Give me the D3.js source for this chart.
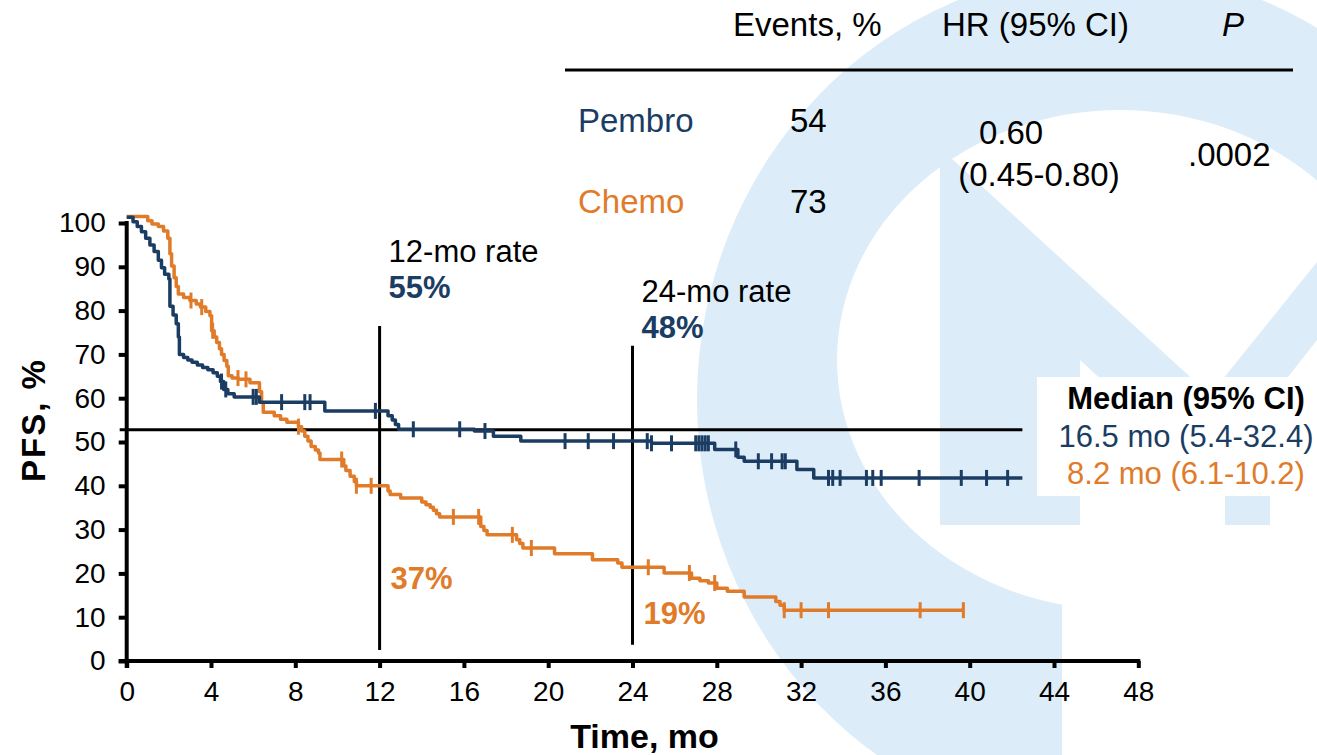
<!DOCTYPE html>
<html lang="en">
<head>
<meta charset="utf-8">
<title>PFS</title>
<script src="https://cdn.jsdelivr.net/npm/d3@7/dist/d3.min.js"></script>
<style>
  body { margin: 0; background: #fff; }
  svg { display: block; font-family: "Liberation Sans", Arial, Helvetica, sans-serif; }
</style>
</head>
<body>
<script>
// ---- values ----
var xTicks = [0, 4, 8, 12, 16, 20, 24, 28, 32, 36, 40, 44, 48];
var yTicks = [0, 10, 20, 30, 40, 50, 60, 70, 80, 90, 100];

// [month, PFS %] : value the curve drops to at that month
var pembroSteps = [[0,101.3],[0.3,100.3],[0.5,99.2],[0.7,98],[0.9,96.5],[1.1,95],[1.3,93.5],[1.5,91.5],
  [1.65,89.8],[1.8,88.3],[2.0,87.2],[2.05,81],[2.2,79],[2.35,77],[2.45,74],[2.5,70],[2.7,69.3],[2.9,68.7],
  [3.1,68.2],[3.35,67.6],[3.6,67],[3.85,66.5],[4.1,65.8],[4.3,65],[4.45,63.8],[4.6,62],[4.8,61],[5.1,60.3],
  [6.3,59.1],[9.4,57.1],[12.4,56],[12.6,55],[12.75,54],[12.9,52.9],[16.5,52.5],[17.4,51.3],[18.7,50.2],
  [24.9,49.7],[27.9,48.3],[29.0,46.5],[29.3,45.6],[31.8,43.7],[32.6,41.8]];
var pembroEnd = 42.5;
var pembroCensor = [4.5, 4.7, 6.0, 6.15, 7.35, 8.45, 8.7, 11.8, 13.6, 15.8, 17.0, 20.8, 21.9, 23.1, 24.7, 24.9,
  25.85, 27.0, 27.15, 27.3, 27.45, 27.6, 28.9, 29.97, 30.6, 31.1, 31.25, 33.3, 33.5, 33.85, 35.1, 35.4, 35.8,
  37.6, 39.6, 40.8, 41.8];

var chemoSteps = [[0,101.5],[1.0,100.5],[1.2,99.8],[1.5,99.2],[1.75,98.2],[1.95,96.5],[2.05,93],[2.13,90.2],
  [2.25,87.5],[2.35,85.5],[2.45,83.8],[2.7,83],[3.0,82.3],[3.3,81.5],[3.5,80.8],[3.75,79.8],[3.95,78.8],
  [4.03,75.4],[4.15,74],[4.27,72.7],[4.4,71.3],[4.5,70],[4.62,68.6],[4.75,67.3],[4.82,65.1],[5.0,64.6],
  [5.3,64.3],[5.85,63.5],[6.3,61.5],[6.4,59],[6.48,56.8],[7.0,56],[7.3,55.2],[7.6,54.5],[8.15,53.5],
  [8.3,52.5],[8.45,51.3],[8.6,50.2],[8.75,49],[8.95,48.2],[9.1,47.5],[9.17,46],[10.3,44.5],[10.4,43.5],
  [10.6,42.2],[10.8,41],[10.9,40],[12.4,38.8],[12.5,38],[13.0,37.2],[14.0,36.3],[14.2,35.7],[14.4,35.1],
  [14.55,34.4],[14.7,33.6],[14.85,32.9],[16.8,30.7],[16.95,29.8],[17.1,28.8],[18.5,27.7],[18.65,26.8],
  [18.8,25.8],[20.3,24.5],[22.1,23.1],[23.3,22.4],[23.5,21.4],[25.5,20.1],[26.8,18.9],[27.2,18.3],
  [27.6,17.8],[28.0,16.6],[28.5,15.9],[29.3,14.6],[30.8,13.6],[31.0,12.7],[31.2,11.6]];
var chemoEnd = 39.7;
var chemoCensor = [3.05, 3.56, 4.08, 5.28, 5.66, 8.15, 10.2, 10.9, 11.6, 15.5, 16.7, 18.3, 19.2, 24.75,
  26.7, 27.9, 31.2, 32.0, 33.3, 37.65, 39.7];

var medianLevel = 52.8;              // horizontal line
var medianLineEnd = 42.5;
var rateMonths = [12, 24];
var rateLineTop = [76.5, 72];
var rateLineBottom = [2.5, 3.7];
var rateTitles = ["12-mo rate", "24-mo rate"];
var pembroRates = ["55%", "48%"];
var chemoRates = ["37%", "19%"];

var tableHead = ["Events, %", "HR (95% CI)", "P"];
var arms = ["Pembro", "Chemo"];
var events = ["54", "73"];
var hrText = ["0.60", "(0.45-0.80)"];
var pText = ".0002";
var medianHead = "Median (95% CI)";
var medianRows = ["16.5 mo (5.4-32.4)", "8.2 mo (6.1-10.2)"];

// ---- setup ----
var W = 1317, H = 755;
var navy = "#1b3d63", orange = "#e07b2a", wm = "#dcedf9";

var svg = d3.select("body").append("svg").attr("width", W).attr("height", H);

// background logo watermark (decoration only)
var defs = svg.append("defs");
defs.append("clipPath").attr("id", "ringclip").append("path")
  .attr("d", "M0,0H1317V450H1062V755H0Z");
function ellipse(cx, cy, rx, ry) {
  return "M" + (cx - rx) + "," + cy + "a" + rx + "," + ry + " 0 1,0 " + (2 * rx) + ",0" +
    "a" + rx + "," + ry + " 0 1,0 " + (-2 * rx) + ",0Z";
}
var logo = svg.append("g").attr("fill", wm);
logo.append("path")
  .attr("d", ellipse(1110, 400, 413, 430) + ellipse(1120, 360, 283, 250))
  .attr("fill-rule", "evenodd").attr("clip-path", "url(#ringclip)");
// the "M" inside the ring: left leg + V + right leg
logo.append("path").attr("d", "M940,148L1210,395L1317,262V340L1270,400V525H1225V470L1210,480L1080,360V525H940Z");

// scales
var x = d3.scaleLinear().domain([0, 48]).range([126.7, 1138.3]);
var y = d3.scaleLinear().domain([0, 100]).range([661, 223]);

// median box background
svg.append("rect").attr("x", 1037).attr("y", 377).attr("width", 280).attr("height", 119).attr("fill", "#fff");

// axes
var xAxis = svg.append("g").attr("transform", "translate(0," + y(0) + ")")
  .call(d3.axisBottom(x).tickValues(xTicks).tickSize(7).tickSizeOuter(0).tickPadding(13));
var yAxis = svg.append("g").attr("transform", "translate(" + x(0) + ",0)")
  .call(d3.axisLeft(y).tickValues(yTicks).tickSize(8).tickSizeOuter(0).tickPadding(13));
[xAxis, yAxis].forEach(function (a) {
  a.select(".domain").attr("stroke", "#000").attr("stroke-width", 4);
  a.selectAll(".tick line").attr("stroke", "#000").attr("stroke-width", 4);
  a.selectAll(".tick text").attr("fill", "#000").attr("font-size", 28)
    .attr("font-family", "Liberation Sans, Arial, sans-serif");
});
xAxis.select(".domain").attr("d", "M" + (x(0) - 8) + ",0H" + (x(48) + 2));
yAxis.select(".domain").attr("d", "M0," + (y(100) - 2) + "V" + (y(0) + 7));

svg.append("text").attr("x", x(24) + 12).attr("y", 748).attr("text-anchor", "middle")
  .attr("font-size", 34).attr("font-weight", "bold").text("Time, mo");
svg.append("text").attr("transform", "translate(45," + 420 + ") rotate(-90)")
  .attr("text-anchor", "middle").attr("font-size", 33).attr("font-weight", "bold")
  .attr("letter-spacing", 2).text("PFS, %");

// reference lines
svg.append("line").attr("x1", x(0) - 7).attr("x2", x(medianLineEnd))
  .attr("y1", y(medianLevel)).attr("y2", y(medianLevel)).attr("stroke", "#000").attr("stroke-width", 3);
svg.selectAll(".rate").data(rateMonths).enter().append("line")
  .attr("x1", function (d) { return x(d); }).attr("x2", function (d) { return x(d); })
  .attr("y1", function (d, i) { return y(rateLineTop[i]); })
  .attr("y2", function (d, i) { return y(rateLineBottom[i]); })
  .attr("stroke", "#000").attr("stroke-width", 3);

// KM curves
function stepAt(steps, t) {
  var i = d3.bisectRight(steps.map(function (d) { return d[0]; }), t) - 1;
  return steps[Math.max(i, 0)][1];
}
var line = d3.line().x(function (d) { return x(d[0]); }).y(function (d) { return y(d[1]); })
  .curve(d3.curveStepAfter);
function drawArm(steps, end, censor, col) {
  var pts = steps.concat([[end, steps[steps.length - 1][1]]]);
  svg.append("path").datum(pts).attr("d", line).attr("fill", "none")
    .attr("stroke", col).attr("stroke-width", 3.5).attr("stroke-linejoin", "round");
  svg.append("g").selectAll("line").data(censor).enter().append("line")
    .attr("x1", function (d) { return x(d); }).attr("x2", function (d) { return x(d); })
    .attr("y1", function (d) { return y(stepAt(steps, d)) - 8; })
    .attr("y2", function (d) { return y(stepAt(steps, d)) + 8; })
    .attr("stroke", col).attr("stroke-width", 3);
}
drawArm(chemoSteps, chemoEnd, chemoCensor, orange);
drawArm(pembroSteps, pembroEnd, pembroCensor, navy);

// rate annotations
var rateTitleY = [262, 302], pembroRateY = [298, 338], chemoRateY = [589, 624];
rateMonths.forEach(function (m, i) {
  var tx = x(m) + 9;
  svg.append("text").attr("x", tx).attr("y", rateTitleY[i]).attr("font-size", 31).text(rateTitles[i]);
  svg.append("text").attr("x", tx).attr("y", pembroRateY[i]).attr("font-size", 31)
    .attr("font-weight", "bold").attr("fill", navy).text(pembroRates[i]);
  svg.append("text").attr("x", tx + 2).attr("y", chemoRateY[i]).attr("font-size", 31)
    .attr("font-weight", "bold").attr("fill", orange).text(chemoRates[i]);
});

// results table
var headX = [733, 942, 1222];
tableHead.forEach(function (t, i) {
  svg.append("text").attr("x", headX[i]).attr("y", 36).attr("font-size", 33)
    .attr("font-style", i == 2 ? "italic" : "normal").text(t);
});
svg.append("line").attr("x1", 565).attr("x2", 1293).attr("y1", 70).attr("y2", 70)
  .attr("stroke", "#000").attr("stroke-width", 3);
var rowY = [132, 213];
arms.forEach(function (a, i) {
  svg.append("text").attr("x", 578).attr("y", rowY[i]).attr("font-size", 33)
    .attr("fill", i == 0 ? navy : orange).text(a);
  svg.append("text").attr("x", 790).attr("y", rowY[i]).attr("font-size", 33).text(events[i]);
});
var hrY = [144, 186];
hrText.forEach(function (t, i) {
  svg.append("text").attr("x", 1011 + (i ? 28 : 0)).attr("y", hrY[i]).attr("text-anchor", "middle")
    .attr("font-size", 33).text(t);
});
svg.append("text").attr("x", 1188).attr("y", 166).attr("font-size", 33).text(pText);

// median legend
svg.append("text").attr("x", 1186).attr("y", 409).attr("text-anchor", "middle")
  .attr("font-size", 31).attr("font-weight", "bold").text(medianHead);
medianRows.forEach(function (t, i) {
  svg.append("text").attr("x", 1186).attr("y", 447 + i * 37).attr("text-anchor", "middle")
    .attr("font-size", 31).attr("fill", i == 0 ? navy : orange).text(t);
});
</script>
</body>
</html>
